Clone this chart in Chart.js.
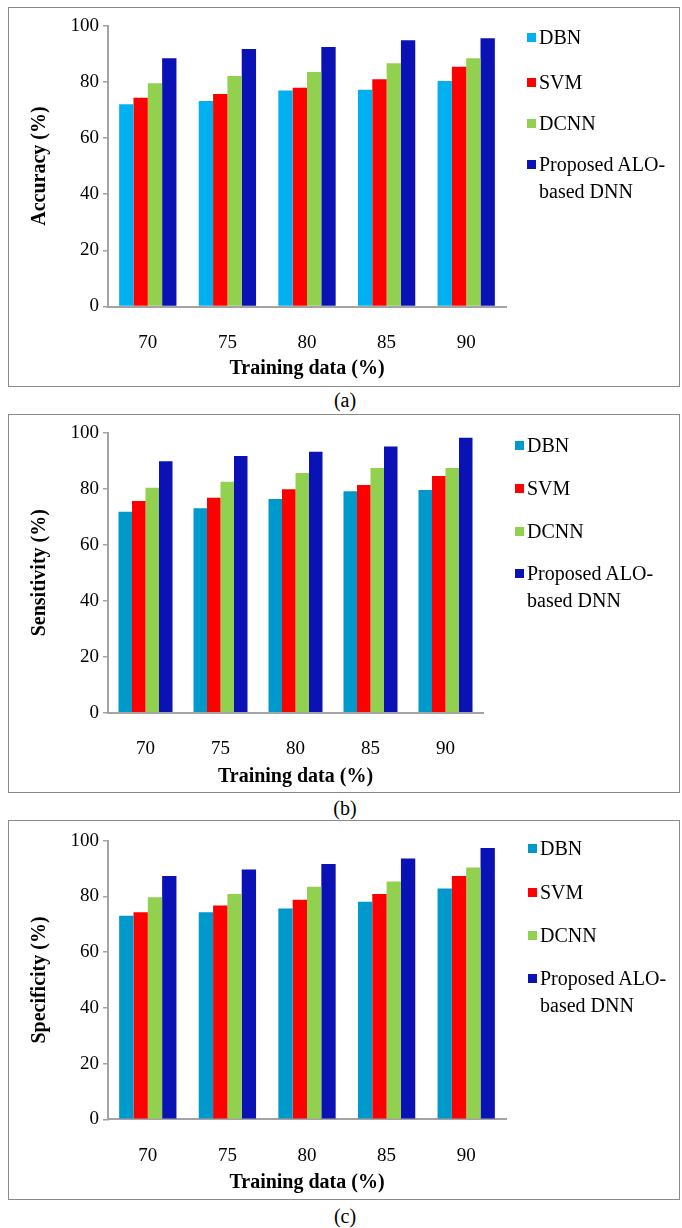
<!DOCTYPE html>
<html>
<head>
<meta charset="utf-8">
<script src="https://cdn.jsdelivr.net/npm/chart.js@4.4.1/dist/chart.umd.min.js"></script>
<style>
  html, body { margin: 0; padding: 0; background: #fff; }
  body { width: 682px; height: 1228px; position: relative; overflow: hidden; font-family: "Liberation Serif", "Times New Roman", serif; }
  .frame { position: absolute; left: 8px; width: 672px; border: 1.5px solid #8a8a8a; box-sizing: border-box; }
  canvas.c { position: absolute; left: 0; }
  .caption { position: absolute; width: 682px; left: 4px; text-align: center; font-size: 20px; color: #000; line-height: 24px; }
  .lg-item { position: absolute; font-size: 20px; line-height: 27px; color: #000; width: 140px; }
  .lg-mark { position: absolute; width: 9px; height: 9px; }
</style>
</head>
<body>
<script>
// ---------- data ----------
const categories = ['70', '75', '80', '85', '90'];
const seriesNames = ['DBN', 'SVM', 'DCNN', 'Proposed ALO-based DNN'];
const yTickValues = [0, 20, 40, 60, 80, 100];

const accuracyDBN  = [72.0, 73.2, 76.9, 77.2, 80.3];
const accuracySVM  = [74.3, 75.7, 77.9, 80.9, 85.4];
const accuracyDCNN = [79.5, 82.1, 83.5, 86.6, 88.4];
const accuracyALO  = [88.4, 91.7, 92.4, 94.8, 95.5];

const sensitivityDBN  = [71.8, 73.0, 76.3, 79.1, 79.5];
const sensitivitySVM  = [75.6, 76.8, 79.8, 81.3, 84.5];
const sensitivityDCNN = [80.3, 82.5, 85.6, 87.4, 87.4];
const sensitivityALO  = [89.8, 91.7, 93.2, 95.1, 98.2];

const specificityDBN  = [73.1, 74.3, 75.7, 78.1, 82.8];
const specificitySVM  = [74.3, 76.7, 78.8, 80.9, 87.3];
const specificityDCNN = [79.7, 80.9, 83.5, 85.4, 90.4];
const specificityALO  = [87.3, 89.7, 91.6, 93.6, 97.4];

// ---------- styles ----------
const colorsA = ['#00B0F0', '#FF0000', '#92D050', '#0B12B5'];
const colorsBC = ['#0099CC', '#FF0000', '#92D050', '#0B12B5'];
const axisGray = '#A3A3A3';
const FONT = '"Liberation Serif", "Times New Roman", serif';

const panels = [
  { title: 'Accuracy (%)', caption: '(a)', data: [accuracyDBN, accuracySVM, accuracyDCNN, accuracyALO], colors: colorsA,
    frameTop: 7, frameBottom: 387, p100: 25.7, p0: 306.5, right: 506, xTitlePad: 6,
    legendX: 527, legendRows: [37, 82, 123, 164], captionY: 400 },
  { title: 'Sensitivity (%)', caption: '(b)', data: [sensitivityDBN, sensitivitySVM, sensitivityDCNN, sensitivityALO], colors: colorsBC,
    frameTop: 414, frameBottom: 793, p100: 432.7, p0: 712.7, right: 483, xTitlePad: 4,
    legendX: 515, legendRows: [445, 488, 531, 573], captionY: 808 },
  { title: 'Specificity (%)', caption: '(c)', data: [specificityDBN, specificitySVM, specificityDCNN, specificityALO], colors: colorsBC,
    frameTop: 820, frameBottom: 1200, p100: 840.7, p0: 1119.3, right: 506, xTitlePad: 5,
    legendX: 528, legendRows: [848, 892, 935, 978], captionY: 1216 }
];

panels.forEach(p => {
  const H = p.frameBottom - p.frameTop;
  const frame = document.createElement('div');
  frame.className = 'frame';
  frame.style.top = p.frameTop + 'px';
  frame.style.height = H + 'px';
  document.body.appendChild(frame);

  const cv = document.createElement('canvas');
  cv.className = 'c';
  cv.width = 682; cv.height = H;
  cv.style.top = p.frameTop + 'px';
  cv.style.width = '682px'; cv.style.height = H + 'px';
  document.body.appendChild(cv);

  const xAxisH = p.frameBottom - p.p0;

  new Chart(cv, {
    type: 'bar',
    data: {
      labels: categories,
      datasets: seriesNames.map((name, i) => ({
        label: name,
        data: p.data[i],
        backgroundColor: p.colors[i],
        borderWidth: 0,
        categoryPercentage: 0.72,
        barPercentage: 1.0
      }))
    },
    options: {
      responsive: false,
      devicePixelRatio: 1,
      animation: false,
      layout: { padding: { left: 0, right: 682 - p.right, top: p.p100 - p.frameTop, bottom: 0 } },
      plugins: { legend: { display: false }, tooltip: { enabled: false } },
      scales: {
        x: {
          grid: { display: false },
          border: { display: true, color: axisGray, width: 2 },
          ticks: { color: '#000', font: { family: FONT, size: 19 }, padding: 17 },
          title: { display: true, text: 'Training data (%)', color: '#000',
                   font: { family: FONT, size: 20, weight: 'bold' }, padding: { top: 0, bottom: p.xTitlePad } },
          afterFit: s => { s.height = xAxisH; s.paddingLeft = 0; s.paddingRight = 0; }
        },
        y: {
          min: 0, max: 100,
          afterBuildTicks: s => { s.ticks = yTickValues.map(v => ({ value: v })); },
          grid: { drawOnChartArea: false, drawTicks: true, tickLength: 5, color: axisGray, lineWidth: 1.5 },
          border: { display: true, color: axisGray, width: 2 },
          ticks: { color: '#000', font: { family: FONT, size: 19 }, padding: 4 },
          title: { display: true, text: p.title, color: '#000',
                   font: { family: FONT, size: 20, weight: 'bold' }, padding: { top: 28, bottom: 0 } },
          afterFit: s => { s.width = 108; s.paddingTop = 0; s.paddingBottom = 0; }
        }
      }
    }
  });

  // legend (HTML text)
  seriesNames.forEach((name, i) => {
    const y = p.legendRows[i];
    const mk = document.createElement('div');
    mk.className = 'lg-mark';
    mk.style.background = p.colors[i];
    mk.style.left = p.legendX + 'px';
    mk.style.top = (y - 4.5) + 'px';
    document.body.appendChild(mk);
    const tx = document.createElement('div');
    tx.className = 'lg-item';
    tx.textContent = name;
    tx.style.left = (p.legendX + 12) + 'px';
    tx.style.top = (y - 13.5) + 'px';
    document.body.appendChild(tx);
  });

  const cap = document.createElement('div');
  cap.className = 'caption';
  cap.textContent = p.caption;
  cap.style.top = (p.captionY - 12) + 'px';
  document.body.appendChild(cap);
});
</script>
</body>
</html>
